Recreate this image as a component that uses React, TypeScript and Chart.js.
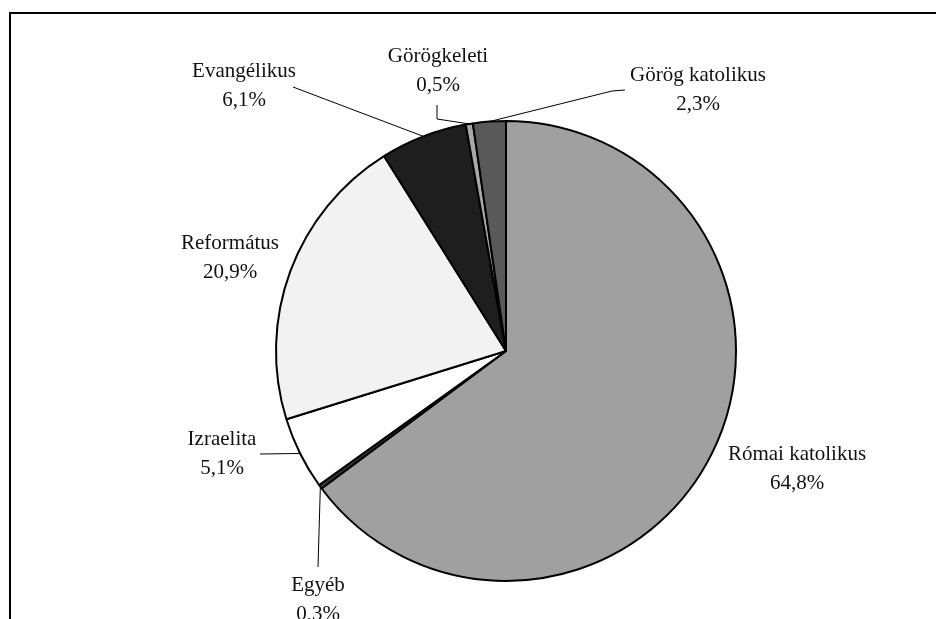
import React, { useEffect, useRef } from "react";
import { Chart, registerables } from "chart.js";

Chart.register(...registerables);

const categories = [
  "Római katolikus",
  "Egyéb",
  "Izraelita",
  "Református",
  "Evangélikus",
  "Görögkeleti",
  "Görög katolikus",
];
const values = [64.8, 0.3, 5.1, 20.9, 6.1, 0.5, 2.3];
const valueLabels = ["64,8%", "0,3%", "5,1%", "20,9%", "6,1%", "0,5%", "2,3%"];
const colors = ["#a0a0a0", "#333333", "#ffffff", "#f2f2f2", "#1e1e1e", "#a8a8a8", "#595959"];

// label layout: text centre (name line), and leader path start points (null = no leader)
const labelPos: { x: number; y: number }[] = [
  { x: 797, y: 454 },
  { x: 318, y: 585 },
  { x: 222, y: 439 },
  { x: 230, y: 243 },
  { x: 244, y: 71 },
  { x: 438, y: 56 },
  { x: 698, y: 75 },
];
const leaderPaths: ({ x: number; y: number }[] | null)[] = [
  null,
  [{ x: 318, y: 567 }],
  [{ x: 260, y: 454 }],
  null,
  [{ x: 293, y: 87 }],
  [{ x: 437, y: 105 }, { x: 437, y: 119 }],
  [{ x: 625, y: 90 }, { x: 612, y: 91 }],
];

const labelPlugin = {
  id: "pieLabels",
  beforeDraw(chart: any) {
    const ctx = chart.ctx;
    ctx.save();
    ctx.fillStyle = "#ffffff";
    ctx.fillRect(0, 0, chart.width, chart.height);
    ctx.strokeStyle = "#000";
    ctx.lineWidth = 2;
    ctx.strokeRect(10, 13, 930, 640);
    ctx.restore();
  },
  afterDraw(chart: any) {
    const ctx = chart.ctx;
    const meta = chart.getDatasetMeta(0);
    ctx.save();
    ctx.strokeStyle = "#000";
    ctx.lineWidth = 1;
    meta.data.forEach((arc: any, i: number) => {
      const path = leaderPaths[i];
      if (!path) return;
      const mid = (arc.startAngle + arc.endAngle) / 2;
      const ex = arc.x + arc.outerRadius * Math.cos(mid);
      const ey = arc.y + arc.outerRadius * Math.sin(mid);
      ctx.beginPath();
      ctx.moveTo(path[0].x, path[0].y);
      for (let k = 1; k < path.length; k++) ctx.lineTo(path[k].x, path[k].y);
      ctx.lineTo(ex, ey);
      ctx.stroke();
    });
    ctx.fillStyle = "#111";
    ctx.font = "21px 'Liberation Serif', 'Times New Roman', serif";
    ctx.textAlign = "center";
    ctx.textBaseline = "middle";
    categories.forEach((c, i) => {
      const p = labelPos[i];
      ctx.fillText(c, p.x, p.y);
      ctx.fillText(valueLabels[i], p.x, p.y + 29);
    });
    ctx.restore();
  },
};

export default function App() {
  const ref = useRef<HTMLCanvasElement | null>(null);
  useEffect(() => {
    if (!ref.current) return;
    const chart = new Chart(ref.current, {
      type: "pie",
      data: {
        labels: categories,
        datasets: [
          {
            data: values,
            backgroundColor: colors,
            borderColor: "#000",
            borderWidth: 2,
          },
        ],
      },
      options: {
        animation: false,
        responsive: false,
        maintainAspectRatio: false,
        layout: { padding: { left: 275, right: 199, top: 120, bottom: 37 } },
        plugins: {
          legend: { display: false },
          tooltip: { enabled: false },
        },
      },
      plugins: [labelPlugin],
    });
    return () => chart.destroy();
  }, []);
  return (
    <div style={{ position: "fixed", left: 0, top: 0, width: 936, height: 619 }}>
      <canvas ref={ref} width={936} height={619} style={{ width: 936, height: 619 }} />
    </div>
  );
}
